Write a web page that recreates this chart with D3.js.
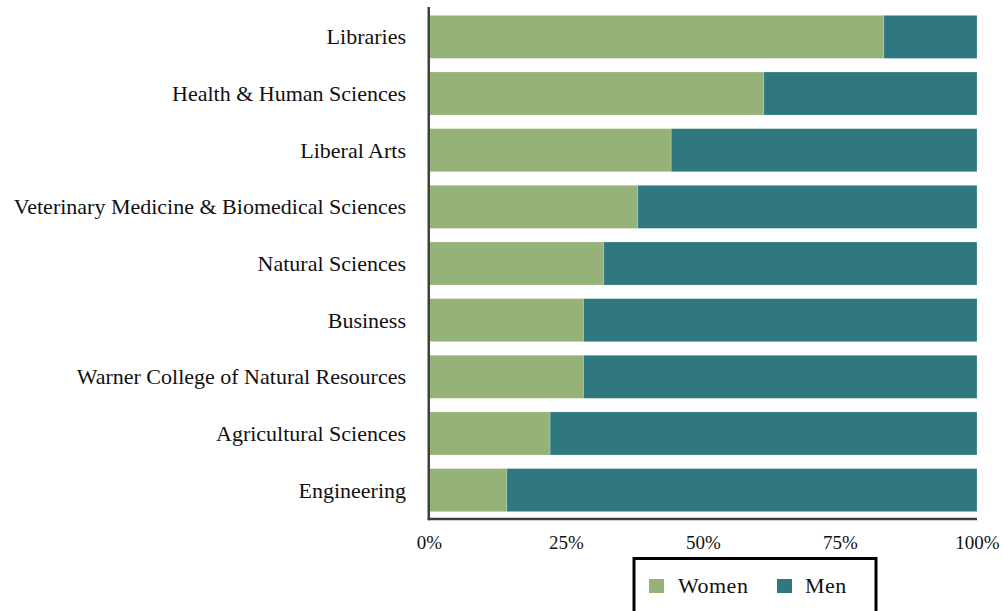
<!DOCTYPE html>
<html>
<head>
<meta charset="utf-8">
<script src="https://cdn.jsdelivr.net/npm/d3@7"></script>
<style>
  html, body { margin: 0; padding: 0; background: #fff; }
  svg { display: block; }
</style>
</head>
<body>
<svg id="chart" width="1003" height="611"></svg>
<script>
const categories = ["Libraries", "Health & Human Sciences", "Liberal Arts",
  "Veterinary Medicine & Biomedical Sciences", "Natural Sciences", "Business",
  "Warner College of Natural Resources", "Agricultural Sciences", "Engineering"];
const women = [83.0, 61.1, 44.2, 38.1, 31.9, 28.2, 28.2, 22.1, 14.2];
const men   = [17.0, 38.9, 55.8, 61.9, 68.1, 71.8, 71.8, 77.9, 85.8];
const seriesNames = ["Women", "Men"];
const seriesColors = ["#95b278", "#2f7880"];
const tickValues = [0, 25, 50, 75, 100];
const tickLabels = ["0%", "25%", "50%", "75%", "100%"];

const svg = d3.select("#chart");
const font = "'Liberation Serif', 'DejaVu Serif', serif";

const x = d3.scaleLinear().domain([0, 100]).range([429, 977]);
const y = d3.scaleBand().domain(categories).range([8, 519])
  .paddingInner(0.24).paddingOuter(0.13);

const rows = categories.map((c, i) => ({ cat: c, Women: women[i], Men: men[i] }));
const stacked = d3.stack().keys(seriesNames)(rows);
const color = d3.scaleOrdinal().domain(seriesNames).range(seriesColors);

svg.append("g").selectAll("g").data(stacked).join("g")
  .attr("fill", d => color(d.key))
  .selectAll("rect").data(d => d).join("rect")
  .attr("x", d => x(d[0]))
  .attr("y", d => y(d.data.cat))
  .attr("width", d => x(d[1]) - x(d[0]))
  .attr("height", y.bandwidth())
  .attr("stroke", "rgba(255,255,255,0.25)")
  .attr("stroke-width", 0.8);

// Category labels
svg.append("g").selectAll("text").data(categories).join("text")
  .attr("x", 406)
  .attr("y", d => y(d) + y.bandwidth() / 2)
  .attr("dy", "0.34em")
  .attr("text-anchor", "end")
  .attr("font-family", font)
  .attr("font-size", 22)
  .attr("fill", "#111")
  .text(d => d);

// Axes
const xAxis = d3.axisBottom(x).tickValues(tickValues)
  .tickFormat((d, i) => tickLabels[i]).tickSize(0).tickPadding(17);
const gx = svg.append("g").attr("transform", "translate(0,519)").call(xAxis);
gx.select(".domain").attr("stroke", "#404040").attr("stroke-width", 2.5)
  .attr("d", `M${x(0) - 1.25},0H${x(100)}`);
gx.selectAll("text").attr("font-family", font).attr("font-size", 19).attr("fill", "#111");

const yAxis = d3.axisLeft(y).tickSize(0).tickFormat("");
const gy = svg.append("g").attr("transform", `translate(${x(0) - 0.25},0)`).call(yAxis);
gy.select(".domain").attr("stroke", "#404040").attr("stroke-width", 2.5)
  .attr("d", "M0,7V520.25");

// Legend
const lg = svg.append("g");
lg.append("rect").attr("x", 634).attr("y", 558.5).attr("width", 242).attr("height", 80)
  .attr("fill", "#fff").attr("stroke", "#000").attr("stroke-width", 3);
const legendX = [649, 777];
const legendTextX = [678, 805];
seriesNames.forEach((s, i) => {
  lg.append("rect").attr("x", legendX[i]).attr("y", 579).attr("width", 15).attr("height", 14)
    .attr("fill", color(s));
  lg.append("text").attr("x", legendTextX[i]).attr("y", 593)
    .attr("font-family", font).attr("font-size", 22).attr("fill", "#111")
    .attr("letter-spacing", "0.5px")
    .text(s);
});
</script>
</body>
</html>
